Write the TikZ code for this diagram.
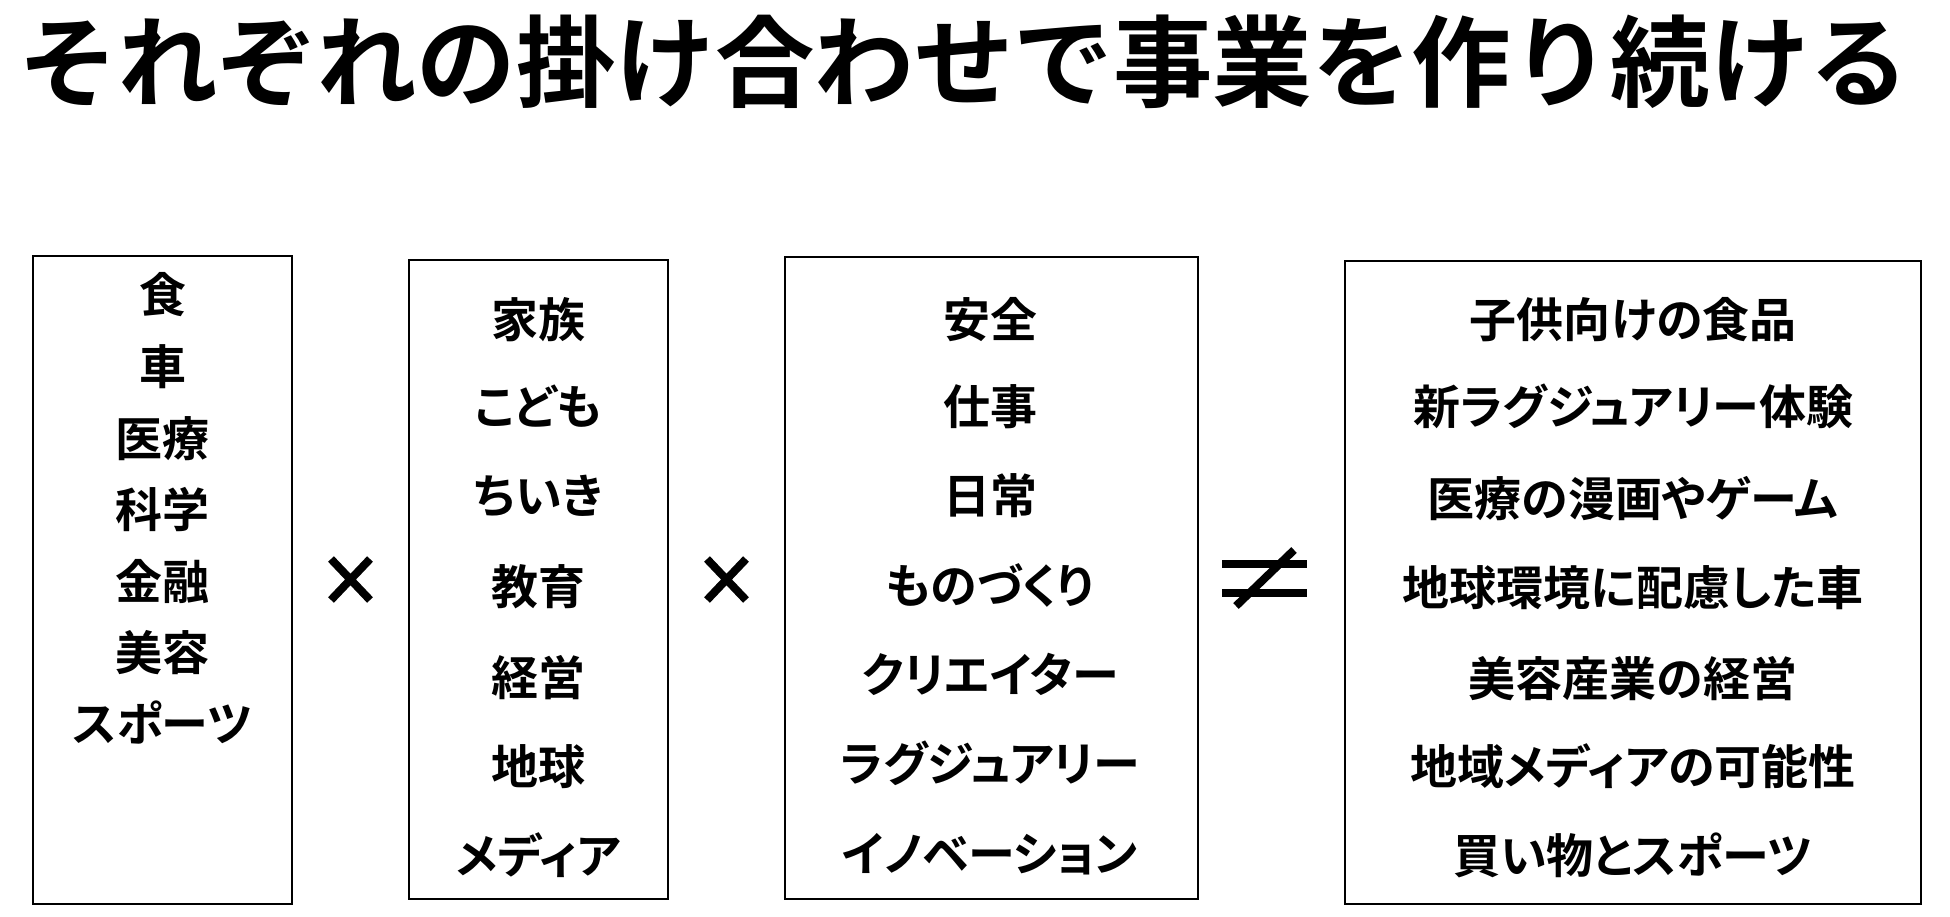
\documentclass[tikz,border=0pt]{standalone}
\usepackage{fontspec}
\newfontfamily\jpbold{Noto Sans CJK JP Bold}
\newfontfamily\jpboldp[RawFeature=+palt]{Noto Sans CJK JP Bold}
\begin{document}
\begin{tikzpicture}[x=1pt,y=-1pt,
  frame/.style={draw=black,line width=2pt,inner sep=0pt,fill=none},
  item/.style={inner sep=0pt,anchor=center,text height=41.4pt,text depth=5.6pt,
    font=\jpboldp\fontsize{47}{47}\selectfont},
  titletext/.style={inner sep=0pt,anchor=center,text height=87.6pt,text depth=11.9pt,
    font=\jpbold\fontsize{99.5}{99.5}\selectfont},
  sym/.style={line width=8pt,line cap=butt}]
\useasboundingbox (0,0) rectangle (1950,916);
\fill[white] (0,0) rectangle (1950,916);

\node[titletext] (title) at (964,62) {それぞれの掛け合わせで事業を作り続ける};

% boxes
\node[frame,minimum width=259pt,minimum height=648pt] (b1) at (162.5,580) {};
\node[frame,minimum width=259pt,minimum height=639pt] (b2) at (538.5,579.5) {};
\node[frame,minimum width=413pt,minimum height=642pt] (b3) at (991.5,578) {};
\node[frame,minimum width=576pt,minimum height=643pt] (b4) at (1633,582.5) {};

% box 1 items
\node[item] (a1) at (162.5,295) {食};
\node[item] (a2) at (162.5,367) {車};
\node[item] (a3) at (162.5,439) {医療};
\node[item] (a4) at (162.5,510) {科学};
\node[item] (a5) at (162.5,582) {金融};
\node[item] (a6) at (162.5,653) {美容};
\node[item] (a7) at (162.5,724) {スポーツ};

% box 2 items
\node[item] (c1) at (538.5,320) {家族};
\node[item] (c2) at (538.5,407) {こども};
\node[item] (c3) at (538.5,496) {ちいき};
\node[item] (c4) at (538.5,587) {教育};
\node[item] (c5) at (538.5,678) {経営};
\node[item] (c6) at (538.5,767) {地球};
\node[item] (c7) at (538.5,856) {メディア};

% box 3 items
\node[item] (d1) at (990,320) {安全};
\node[item] (d2) at (990,407) {仕事};
\node[item] (d3) at (990,496) {日常};
\node[item] (d4) at (990,586) {ものづくり};
\node[item] (d5) at (990,675) {クリエイター};
\node[item] (d6) at (990,764) {ラグジュアリー};
\node[item] (d7) at (990,854) {イノベーション};

% box 4 items
\node[item] (e1) at (1633,320) {子供向けの食品};
\node[item] (e2) at (1633,407) {新ラグジュアリー体験};
\node[item] (e3) at (1633,499) {医療の漫画やゲーム};
\node[item] (e4) at (1633,588) {地球環境に配慮した車};
\node[item] (e5) at (1633,679) {美容産業の経営};
\node[item] (e6) at (1633,767) {地域メディアの可能性};
\node[item] (e7) at (1633,856) {買い物とスポーツ};

% multiplication signs
\draw[sym] (331,559) -- (370,600);
\draw[sym] (331,600) -- (370,559);
\draw[sym] (707,559) -- (746,600);
\draw[sym] (707,600) -- (746,559);

% not-equal sign
\draw[sym] (1222,564) -- (1307,564);
\draw[sym] (1222,592.5) -- (1307,592.5);
\draw[sym] (1236,606) -- (1294,550);
\end{tikzpicture}
\end{document}
